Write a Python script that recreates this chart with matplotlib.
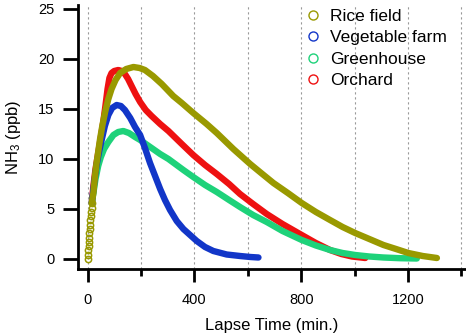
import matplotlib
matplotlib.use('Agg')
import matplotlib.pyplot as plt
from matplotlib.lines import Line2D
from matplotlib.ticker import MultipleLocator

plt.rcParams['font.family'] = ['Liberation Sans', 'DejaVu Sans']
plt.rcParams['mathtext.default'] = 'regular'

# values (minutes, ppb)
rice_start_x = [0, 1, 2, 4, 5, 6, 7, 8, 10, 11, 12, 13, 15, 16]
rice_start_y = [0, 0.4, 0.9, 1.3, 1.7, 2.1, 2.6, 3.0, 3.4, 3.9, 4.3, 4.7, 5.1, 5.6]

rice_x = [16, 22, 28, 34, 47, 56, 66, 78, 90, 105, 122, 145, 172, 195, 215, 245, 278,
          321, 353, 396, 446, 484, 546, 609, 650, 696, 750, 802, 855, 908, 955, 1002,
          1055, 1108, 1155, 1201, 1255, 1308]
rice_y = [5.6, 6.6, 8.3, 9.6, 12.0, 13.4, 14.7, 16.0, 17.0, 17.9, 18.6, 19.0, 19.2,
          19.1, 18.9, 18.3, 17.5, 16.3, 15.6, 14.6, 13.5, 12.6, 11.0, 9.5, 8.6, 7.6,
          6.6, 5.6, 4.7, 3.9, 3.2, 2.6, 2.0, 1.4, 1.0, 0.6, 0.3, 0.1]

veg_x = [16, 25, 34, 43, 53, 65, 78, 92, 109, 125, 140, 160, 178, 197, 215, 234, 253,
         272, 290, 309, 334, 359, 384, 409, 440, 471, 521, 571, 610, 640]
veg_y = [5.6, 7.6, 9.4, 10.7, 11.9, 13.3, 14.4, 15.1, 15.4, 15.3, 14.9, 14.1, 13.2,
         12.4, 11.1, 9.6, 8.3, 7.0, 5.9, 4.9, 3.8, 3.0, 2.4, 1.8, 1.2, 0.8, 0.45, 0.3,
         0.2, 0.15]

green_x = [16, 22, 30, 40, 50, 62, 78, 97, 115, 134, 155, 178, 197, 240, 272, 303, 359,
           396, 440, 484, 530, 571, 620, 671, 730, 802, 855, 908, 955, 1002, 1055, 1108,
           1170, 1233]
green_y = [5.6, 6.6, 8.0, 9.3, 10.2, 11.0, 11.7, 12.4, 12.7, 12.8, 12.6, 12.2, 11.9,
           11.1, 10.5, 10.0, 8.9, 8.2, 7.4, 6.7, 5.9, 5.2, 4.4, 3.7, 2.8, 1.9, 1.35, 0.9,
           0.6, 0.4, 0.25, 0.15, 0.08, 0.05]

orch_x = [16, 22, 30, 40, 50, 59, 67, 75, 82, 90, 100, 115, 128, 140, 152, 165, 180,
          197, 218, 240, 272, 303, 353, 396, 440, 484, 530, 571, 620, 671, 730, 802,
          855, 908, 950, 990, 1040]
orch_y = [5.6, 7.3, 9.0, 10.6, 12.2, 13.7, 15.3, 17.0, 18.1, 18.6, 18.8, 18.9, 18.8,
          18.5, 18.0, 17.3, 16.5, 15.7, 14.9, 14.3, 13.5, 12.8, 11.5, 10.4, 9.4, 8.5,
          7.5, 6.5, 5.5, 4.5, 3.5, 2.4, 1.6, 0.9, 0.5, 0.25, 0.1]

names = ['Rice field', 'Vegetable farm', 'Greenhouse', 'Orchard']
colors = ['#999900', '#1236c8', '#1ed27a', '#ee1111']

fig = plt.figure(figsize=(4.66, 3.35), dpi=100)
ax = fig.add_axes([78 / 466, 66 / 335, 388 / 466, 264 / 335])

lw = 4.6
ax.plot(orch_x, orch_y, color=colors[3], lw=lw, solid_capstyle='round',
        solid_joinstyle='round', zorder=2)
ax.plot(green_x, green_y, color=colors[2], lw=lw, solid_capstyle='round',
        solid_joinstyle='round', zorder=3)
ax.plot(veg_x, veg_y, color=colors[1], lw=lw, solid_capstyle='round',
        solid_joinstyle='round', zorder=4)
ax.plot(rice_x, rice_y, color=colors[0], lw=lw, solid_capstyle='round',
        solid_joinstyle='round', zorder=5)
ax.plot(rice_start_x, rice_start_y, ls='none', marker='o', ms=4.5, mfc='none',
        mec=colors[0], mew=1.1, zorder=5)

ax.set_xlim(-35.6, 1417)
ax.set_ylim(-1.0, 25.4)
ax.xaxis.set_major_locator(MultipleLocator(400))
ax.xaxis.set_minor_locator(MultipleLocator(200))
ax.yaxis.set_major_locator(MultipleLocator(5))

ax.spines['top'].set_visible(False)
ax.spines['right'].set_visible(False)
ax.spines['left'].set_linewidth(2)
ax.spines['bottom'].set_linewidth(2)

ax.grid(axis='x', which='both', ls=(0, (2, 2.5)), color='#999999', lw=0.8, zorder=0)

ax.tick_params(axis='y', which='major', length=11, width=2, labelsize=10.5, pad=6)
ax.tick_params(axis='x', which='major', length=9, width=2, labelsize=10.5, pad=8)
ax.tick_params(axis='x', which='minor', length=5, width=2)

ax.set_xlabel('Lapse Time (min.)', fontsize=12, labelpad=8.5)
ax.set_ylabel('NH$_3$ (ppb)', fontsize=12, labelpad=11)

handles = [Line2D([], [], ls='none', marker='o', ms=6.5, mfc='none', mec=c, mew=1)
           for c in colors]
ax.legend(handles, names, loc='upper left', bbox_to_anchor=(306 / 466, 1 - 9 / 335),
          bbox_transform=fig.transFigure, frameon=False, fontsize=12.5,
          handlelength=0.8, handletextpad=0.6, labelspacing=0.35, borderpad=0,
          borderaxespad=0)

fig.savefig('out.png', dpi=100)
